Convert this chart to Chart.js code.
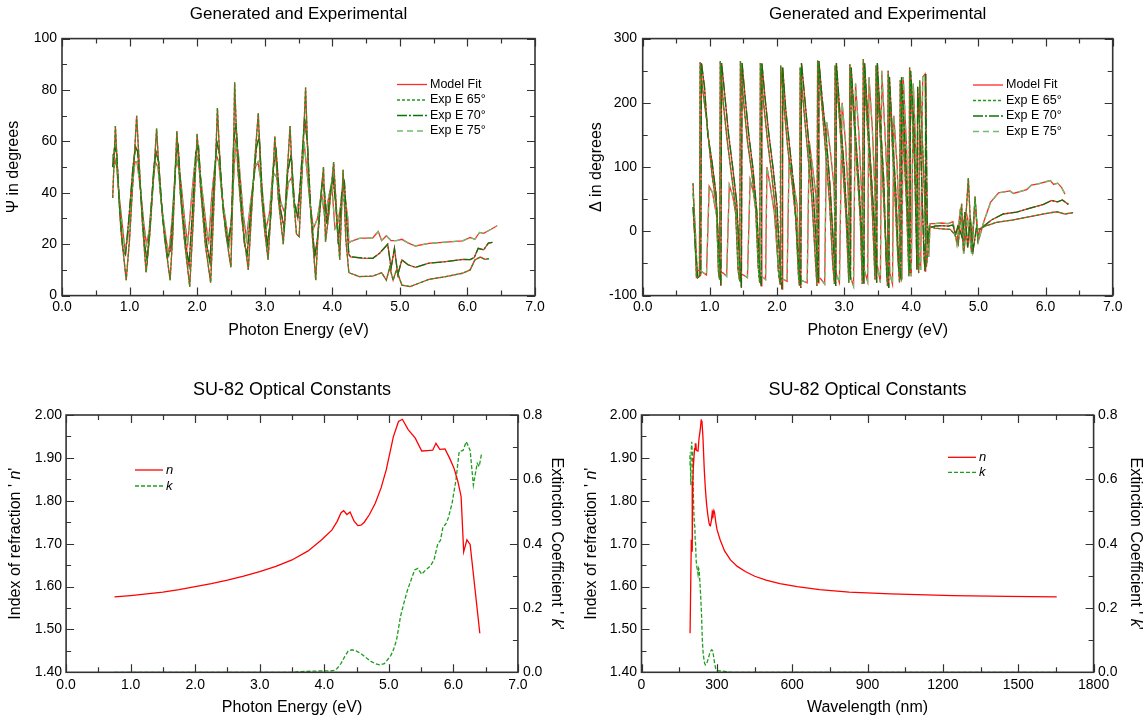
<!DOCTYPE html>
<html>
<head>
<meta charset="utf-8">
<script src="https://cdn.jsdelivr.net/npm/chart.js@4.4.0/dist/chart.umd.min.js"></script>
<style>
  body { margin: 0; background: #fff; }
  #wrap { position: relative; width: 1146px; height: 721px; }
  canvas { position: absolute; }
</style>
</head>
<body>
<div id="wrap">
  <canvas id="psi" width="573" height="360" style="left:0;top:0"></canvas>
  <canvas id="delta" width="573" height="360" style="left:573px;top:0"></canvas>
  <canvas id="nkE" width="573" height="361" style="left:0;top:360px"></canvas>
  <canvas id="nkW" width="573" height="361" style="left:573px;top:360px"></canvas>
</div>
<script>
// ---- Psi (deg) vs photon energy (eV) ----
var psiE65 = [0.75,0.79,0.83,0.87,0.95,1.00,1.05,1.105,1.15,1.19,1.245,1.30,1.35,1.40,1.45,1.52,1.60,1.64,1.67,1.70,1.75,1.81,1.89,1.94,1.97,2.00,2.05,2.12,2.20,2.24,2.27,2.30,2.35,2.42,2.50,2.53,2.555,2.60,2.66,2.757,2.80,2.85,2.905,2.95,3.00,3.05,3.10,3.15,3.20,3.275,3.32,3.375,3.42,3.47,3.51,3.56,3.605,3.65,3.70,3.755,3.80,3.87,3.90,3.95,4.02,4.07,4.11,4.16,4.20,4.245,
  4.27,4.40,4.60,4.73,4.80,4.85,4.90,4.95,5.03,5.15,5.30,5.43,5.68,5.93,6.04,6.11,6.19,6.26,6.32];
var psi65 = [38,66,45,26,6,22,45,70,48,28,9,24,44,65,42,22,6,24,45,64,40,22,3.5,28,45,63,42,20,5,30,50,73,45,25,11,42,83,50,30,10,30,52,71,40,25,14,36,62,38,20,42,66,40,24,23,52,81,45,25,6,30,50,21,32,52,30,14,49,22,9,
  8.7,7.4,7.6,8.9,6.0,11,6,10,4.1,3.5,5.0,6.3,7.4,8.7,10,13.9,15,14.1,14.4];

var psiE70 = [0.75,0.78,0.81,0.85,0.90,0.94,0.99,1.05,1.09,1.12,1.17,1.22,1.26,1.31,1.36,1.39,1.43,1.49,1.56,1.61,1.66,1.69,1.72,1.77,1.83,1.88,1.93,1.98,2.02,2.07,2.14,2.19,2.23,2.29,2.33,2.39,2.46,2.51,2.54,2.575,2.62,2.70,2.74,2.81,2.88,2.92,2.97,3.04,3.08,3.13,3.17,3.23,3.29,3.34,3.39,3.44,3.49,3.53,3.59,3.63,3.68,3.74,3.79,3.85,3.88,3.92,3.97,4.01,4.05,4.09,4.14,4.18,4.22,4.245,
  4.27,4.45,4.60,4.70,4.82,4.87,4.92,4.97,5.03,5.12,5.23,5.43,5.68,5.93,6.04,6.10,6.16,6.24,6.31,6.37];
var psi70 = [50,58,55,35,18,16,30,50,58,56,38,20,14,30,50,56,52,30,15,18,40,55,58,36,20,12,32,56,58,38,20,13,35,60,55,32,20,30,60,67,48,20,16,38,58,62,36,20,28,50,56,34,26,48,55,36,30,45,69,60,34,15,24,44,42,28,40,46,36,20,40,44,26,16,
  15.1,14.6,14.5,16.5,20.0,10.7,18.4,8.2,13.9,12.0,11.0,12.6,13.2,14.1,14.0,14.8,18.4,17.8,20.4,20.7];

var psiE75 = [0.75,0.77,0.80,0.84,0.89,0.93,0.97,1.03,1.08,1.11,1.16,1.21,1.25,1.29,1.34,1.38,1.42,1.47,1.54,1.58,1.63,1.68,1.71,1.76,1.82,1.86,1.91,1.96,2.01,2.06,2.13,2.17,2.22,2.28,2.32,2.37,2.44,2.48,2.52,2.57,2.61,2.68,2.73,2.79,2.86,2.90,2.96,3.02,3.07,3.12,3.18,3.24,3.30,3.35,3.40,3.45,3.50,3.55,3.58,3.62,3.67,3.72,3.78,3.84,3.89,3.93,3.99,4.04,4.08,4.13,4.19,4.23,4.245,
  4.27,4.40,4.60,4.68,4.73,4.80,4.87,4.95,5.03,5.12,5.23,5.43,5.68,5.93,6.04,6.11,6.18,6.24,6.35,6.44];
var psi75 = [55,50,53,40,28,18,22,40,52,52,42,28,20,25,42,52,50,36,22,16,30,50,52,44,28,20,36,50,54,44,28,20,40,55,52,38,26,20,36,60,55,32,22,36,50,52,42,26,32,48,46,36,32,44,46,32,36,48,60,50,36,26,30,40,30,36,44,26,28,36,38,30,20.5,
  21,22.3,22.5,24.9,21.4,23.3,21.4,21.4,21.9,20.5,19.3,20.3,20.8,21.3,22.6,21.9,24.6,24.2,25.8,27.2];

// ---- Delta (deg) vs photon energy (eV) ----
var delE65 = [0.75,0.80,0.845,0.855,0.90,0.953,1.03,1.10,1.13,1.145,1.155,1.20,1.26,1.32,1.38,1.42,1.445,1.455,1.50,1.56,1.62,1.68,1.72,1.742,1.752,1.80,1.86,1.92,1.98,2.02,2.045,2.055,2.10,2.16,2.22,2.28,2.32,2.335,2.345,2.40,2.46,2.52,2.57,2.595,2.605,2.65,2.72,2.78,2.83,2.855,2.865,2.92,2.98,3.03,3.07,3.085,3.13,3.19,3.24,3.27,3.285,3.33,3.38,3.42,3.46,3.475,3.52,3.57,3.62,3.645,3.655,3.70,3.75,3.80,3.825,3.835,3.88,3.93,3.965,3.975,4.02,4.07,4.11,4.125,4.17,4.20,4.225,4.25,
  4.27,4.35,4.45,4.58,4.65,4.70,4.75,4.78,4.85,4.90,4.95,4.99,5.02,5.10,5.27,5.52,5.77,6.02,6.17,6.29,6.41];
var del65 = [75,-72,-70,263,215,173,90,38,-65,-75,265,200,140,90,40,-60,-78,265,205,140,95,40,-55,-80,262,200,140,90,30,-60,-82,258,200,130,80,20,-70,-85,255,190,120,50,-40,-85,266,220,130,50,-50,-82,258,190,100,20,-80,260,200,100,20,-82,268,190,110,30,-75,258,180,90,-20,-85,250,170,70,-40,-80,235,150,40,-70,255,170,60,-65,235,130,50,-55,-30,
  8,5,4,3,-5,-20,43,-32,83,-32,54,-13,4,8,14,18,23,28,30.5,27,29];

var delE70 = [0.75,0.79,0.82,0.865,0.875,0.92,0.97,1.03,1.09,1.14,1.165,1.175,1.22,1.28,1.34,1.40,1.445,1.47,1.48,1.52,1.58,1.64,1.70,1.745,1.765,1.775,1.82,1.88,1.94,2.00,2.055,2.075,2.085,2.13,2.19,2.25,2.31,2.355,2.365,2.42,2.48,2.54,2.59,2.615,2.625,2.67,2.73,2.79,2.84,2.875,2.885,2.94,3.00,3.05,3.095,3.105,3.15,3.21,3.26,3.295,3.305,3.35,3.40,3.45,3.485,3.495,3.54,3.59,3.635,3.665,3.675,3.72,3.77,3.815,3.845,3.855,3.90,3.945,3.98,3.99,4.04,4.085,4.095,4.14,4.19,4.205,4.215,4.24,
  4.27,4.35,4.45,4.55,4.62,4.66,4.70,4.76,4.80,4.84,4.88,4.92,4.97,5.02,5.10,5.20,5.37,5.57,5.77,5.97,6.09,6.18,6.25,6.34];
var del70 = [38,-35,-72,-68,262,225,150,110,60,-40,-85,262,215,150,100,45,-50,-88,262,215,150,100,30,-70,-85,262,210,150,100,40,-75,-90,255,190,130,70,-30,-88,262,200,130,60,-30,-80,265,210,150,70,-20,-85,262,180,100,0,-75,255,180,90,0,-82,262,180,95,10,-80,262,170,80,-70,-88,240,150,60,-60,-72,240,150,40,-65,250,160,-60,225,130,-40,-62,245,-20,
  5,8,9,8,10,-5,10,-10,30,-25,20,-30,5,3,10,18,27,30,36,42,48,46,49,42];

var delE75 = [0.75,0.78,0.81,0.87,0.95,0.99,1.04,1.10,1.13,1.20,1.25,1.29,1.34,1.39,1.43,1.50,1.56,1.60,1.65,1.70,1.73,1.80,1.83,1.85,1.90,1.96,2.03,2.10,2.15,2.18,2.24,2.30,2.33,2.40,2.45,2.48,2.53,2.58,2.61,2.66,2.71,2.74,2.80,2.85,2.88,2.93,2.97,3.02,3.06,3.09,3.14,3.17,3.22,3.26,3.30,3.35,3.37,3.42,3.46,3.49,3.54,3.56,3.61,3.66,3.68,3.72,3.74,3.79,3.84,3.86,3.88,3.93,3.96,4.00,4.03,4.07,4.10,4.14,4.17,4.205,4.23,4.26,
  4.28,4.35,4.45,4.55,4.62,4.68,4.73,4.78,4.84,4.90,4.95,5.00,5.08,5.18,5.30,5.47,5.52,5.72,5.79,5.89,6.07,6.12,6.18,6.24,6.29];
var del75 = [60,10,-60,-62,-68,70,60,25,-62,-65,-70,72,55,25,-65,-68,-72,80,60,20,-70,-72,-75,100,70,30,-72,-75,-78,110,80,40,-75,-78,-80,140,100,55,-70,-75,-82,170,120,70,-65,-80,200,140,60,-70,-85,230,150,60,-60,-78,240,160,60,-50,-80,250,150,40,-65,-82,180,100,-50,-75,240,130,-40,-70,230,120,-30,-60,240,245,40,-40,
  12,12,13,12,15,-20,35,-35,20,-35,47,-15,15,45,60,63,59,65,72,74,79,73,75,68,58];

// ---- SU-82 optical constants ----
var nE = [0.75,0.85,1.0,1.25,1.5,1.75,2.0,2.25,2.5,2.75,3.0,3.25,3.5,3.75,3.96,4.12,4.20,4.26,4.30,4.35,4.40,4.46,4.52,4.57,4.62,4.70,4.79,4.88,4.96,5.07,5.15,5.21,5.30,5.41,5.51,5.60,5.68,5.73,5.79,5.87,5.94,6.01,6.07,6.12,6.16,6.21,6.26,6.41];
var nVal = [1.576,1.577,1.579,1.583,1.587,1.593,1.600,1.607,1.615,1.624,1.635,1.647,1.662,1.683,1.709,1.732,1.752,1.772,1.777,1.768,1.774,1.753,1.742,1.743,1.750,1.768,1.794,1.830,1.872,1.949,1.985,1.990,1.966,1.946,1.916,1.917,1.918,1.934,1.920,1.921,1.900,1.876,1.845,1.810,1.681,1.709,1.698,1.491];
var kE = [0.75,3.5,3.6,3.9,4.14,4.20,4.26,4.32,4.37,4.43,4.50,4.57,4.65,4.73,4.80,4.87,4.93,4.98,5.03,5.07,5.12,5.18,5.24,5.29,5.35,5.40,5.45,5.51,5.57,5.64,5.70,5.76,5.80,5.84,5.88,5.92,5.98,6.04,6.09,6.15,6.20,6.26,6.31,6.37,6.40,6.44];
var kVal = [0,0,0.002,0.004,0.005,0.012,0.028,0.05,0.066,0.070,0.066,0.058,0.045,0.033,0.026,0.023,0.027,0.039,0.052,0.069,0.10,0.173,0.22,0.256,0.29,0.318,0.323,0.305,0.318,0.330,0.349,0.401,0.41,0.453,0.46,0.479,0.525,0.598,0.686,0.69,0.717,0.69,0.582,0.65,0.64,0.683];

var FONT = "'Liberation Sans', Arial, sans-serif";
Chart.defaults.font.family = FONT;
Chart.defaults.color = '#000';

var MODEL = '#ff2a2a';
var G65 = '#1f9a1f', G70 = '#0b730b', G75 = '#6cbf6c';
var D65 = [3, 2], D70 = [10, 2, 2, 2], D75 = [6, 4];

function pts(xs, ys) { return xs.map(function (x, i) { return { x: x, y: ys[i] }; }); }
function nm(e) { return 1239.84 / e; }   // photon energy -> wavelength

function font(it, size) { return (it ? 'italic ' : '') + size + 'px ' + FONT; }

// box around the plot, inward ticks, legend and mixed-style axis titles
function frame(cfg) {
  return {
    id: 'frame',
    afterDraw: function (chart) {
      var ctx = chart.ctx, a = chart.chartArea, s = chart.scales;
      ctx.save();
      ctx.strokeStyle = '#333';
      ctx.lineWidth = 1.2;
      ctx.beginPath();
      function marks(scale, fn) {
        var v = scale.ticks.map(function (t) { return t.value; });
        v.forEach(function (t, i) {
          fn(Math.round(scale.getPixelForValue(t)) + 0.5, 8);
          if (i < v.length - 1) fn(Math.round(scale.getPixelForValue((t + v[i + 1]) / 2)) + 0.5, 5);
        });
      }
      marks(s.x, function (p, l) { ctx.moveTo(p, a.bottom); ctx.lineTo(p, a.bottom - l); ctx.moveTo(p, a.top); ctx.lineTo(p, a.top + l); });
      marks(s.y, function (p, l) {
        ctx.moveTo(a.left, p); ctx.lineTo(a.left + l, p);
        if (!s.y2) { ctx.moveTo(a.right, p); ctx.lineTo(a.right - l, p); }
      });
      if (s.y2) marks(s.y2, function (p, l) { ctx.moveTo(a.right, p); ctx.lineTo(a.right - l, p); });
      ctx.stroke();
      ctx.lineWidth = 1.6;
      ctx.strokeRect(a.left, a.top, a.right - a.left, a.bottom - a.top);

      var lg = cfg.legend;
      lg.items.forEach(function (it, i) {
        var y = lg.y + i * lg.dy;
        ctx.beginPath();
        ctx.setLineDash(it.dash || []);
        ctx.strokeStyle = it.color;
        ctx.lineWidth = 1.3;
        ctx.moveTo(lg.x, y); ctx.lineTo(lg.x + lg.len, y);
        ctx.stroke();
        ctx.setLineDash([]);
        ctx.fillStyle = '#000';
        ctx.font = font(it.italic, lg.size);
        ctx.textAlign = 'left'; ctx.textBaseline = 'middle';
        ctx.fillText(it.text, lg.x + lg.len + 3, y);
      });

      (cfg.sideTitles || []).forEach(function (t) {
        ctx.save();
        ctx.translate(t.x, (a.top + a.bottom) / 2);
        ctx.rotate(t.rot);
        ctx.textAlign = 'left'; ctx.textBaseline = 'middle';
        ctx.fillStyle = '#000';
        var w = 0;
        t.parts.forEach(function (p) { ctx.font = font(p[1], 16); w += ctx.measureText(p[0]).width; });
        var cx = -w / 2;
        t.parts.forEach(function (p) { ctx.font = font(p[1], 16); ctx.fillText(p[0], cx, 0); cx += ctx.measureText(p[0]).width; });
        ctx.restore();
      });
      ctx.restore();
    }
  };
}

function axis(o) {
  var horiz = o.pos === 'bottom';
  return {
    type: 'linear', position: o.pos, min: o.min, max: o.max,
    grid: { display: false, drawTicks: false },
    border: { display: false },
    ticks: {
      stepSize: o.step, padding: o.pad, maxRotation: 0, autoSkip: false,
      font: { size: 14 }, color: '#000',
      callback: function (v) { return o.dec == null ? String(v) : Number(v).toFixed(o.dec); }
    },
    title: o.title ? { display: true, text: o.title, font: { size: 16 }, color: '#000',
      padding: horiz ? { top: 0, bottom: o.tpad } : { top: o.tpad, bottom: 0 } } : { display: false },
    afterFit: function (s) { if (horiz) s.height = o.size; else s.width = o.size; }
  };
}

function title(text, size, top, bottom) {
  return { display: true, text: text, fullSize: false, color: '#000',
    font: { size: size, weight: 'normal' }, padding: { top: top, bottom: bottom } };
}

function line(label, data, color, dash, order, width) {
  return { label: label, data: data, borderColor: color, borderDash: dash || [],
    borderWidth: width || 1.3, pointRadius: 0, tension: 0, fill: false, order: order };
}

var base = { responsive: false, animation: false, events: [] };

function angleSets(E1, v1, E2, v2, E3, v3) {
  return [
    line('Exp E 65°', pts(E1, v1), G65, D65, 1),
    line('Exp E 70°', pts(E2, v2), G70, D70, 1),
    line('Exp E 75°', pts(E3, v3), G75, D75, 1),
    line('Model Fit', pts(E1, v1), MODEL, null, 2),
    line('Model Fit', pts(E2, v2), MODEL, null, 2),
    line('Model Fit', pts(E3, v3), MODEL, null, 2)
  ];
}

function fitLegend(x, y) {
  return { x: x, y: y, dy: 15.5, len: 30, size: 12.5, items: [
    { text: 'Model Fit', color: MODEL },
    { text: 'Exp E 65°', color: G65, dash: D65 },
    { text: 'Exp E 70°', color: G70, dash: D70 },
    { text: 'Exp E 75°', color: G75, dash: D75 }
  ] };
}

new Chart(document.getElementById('psi'), {
  type: 'line',
  data: { datasets: angleSets(psiE65, psi65, psiE70, psi70, psiE75, psi75) },
  options: Object.assign({}, base, {
    layout: { padding: { right: 38 } },
    plugins: { legend: { display: false }, tooltip: { enabled: false },
      title: title('Generated and Experimental', 17, 3.8, 14.4) },
    scales: {
      x: axis({ pos: 'bottom', min: 0, max: 7, step: 1, dec: 1, pad: 3, title: 'Photon Energy (eV)', tpad: 19.4, size: 64.4 }),
      y: axis({ pos: 'left', min: 0, max: 100, step: 20, pad: 5, title: 'Ψ in degrees', tpad: 4.4, size: 62 })
    }
  }),
  plugins: [frame({ legend: fitLegend(397, 84.5) })]
});

new Chart(document.getElementById('delta'), {
  type: 'line',
  data: { datasets: angleSets(delE65, del65, delE70, del70, delE75, del75) },
  options: Object.assign({}, base, {
    layout: { padding: { right: 33.3 } },
    plugins: { legend: { display: false }, tooltip: { enabled: false },
      title: title('Generated and Experimental', 17, 3.8, 14.4) },
    scales: {
      x: axis({ pos: 'bottom', min: 0, max: 7, step: 1, dec: 1, pad: 3, title: 'Photon Energy (eV)', tpad: 19.4, size: 64.4 }),
      y: axis({ pos: 'left', min: -100, max: 300, step: 100, pad: 5.7, title: 'Δ in degrees', tpad: 14.4, size: 69.7 })
    }
  }),
  plugins: [frame({ legend: fitLegend(400, 85) })]
});

function nkLegend(x, y, dy) {
  return { x: x, y: y, dy: dy, len: 28, size: 13, items: [
    { text: 'n', color: '#ff0000', italic: true },
    { text: 'k', color: '#1e9e1e', dash: [4, 2], italic: true }
  ] };
}
function nkTitles(xl, xr) {
  return [
    { x: xl, rot: -Math.PI / 2, parts: [["Index of refraction ' ", false], ['n', true], ["'", false]] },
    { x: xr, rot: Math.PI / 2, parts: [["Extinction Coefficient ' ", false], ['k', true], ["'", false]] }
  ];
}
function nkScales(xo, yw, y2w, ypad, y2pad) {
  return {
    x: axis(xo),
    y: axis({ pos: 'left', min: 1.4, max: 2.0, step: 0.1, dec: 2, pad: ypad, size: yw }),
    y2: axis({ pos: 'right', min: 0, max: 0.8, step: 0.2, dec: 1, pad: y2pad, size: y2w })
  };
}

new Chart(document.getElementById('nkE'), {
  type: 'line',
  data: { datasets: [
    Object.assign(line('n', pts(nE, nVal), '#ff0000', null, 1), { yAxisID: 'y' }),
    Object.assign(line('k', pts(kE, kVal), '#1e9e1e', [4, 2], 2), { yAxisID: 'y2' })
  ] },
  options: Object.assign({}, base, {
    plugins: { legend: { display: false }, tooltip: { enabled: false },
      title: title('SU-82 Optical Constants', 18, 19.2, 14.2) },
    scales: nkScales({ pos: 'bottom', min: 0, max: 7, step: 1, dec: 1, pad: 4.3, title: 'Photon Energy (eV)', tpad: 3.4, size: 48.7 },
      66.1, 55.1, 4, 5)
  }),
  plugins: [frame({ legend: nkLegend(135, 110, 16), sideTitles: nkTitles(16, 556) })]
});

new Chart(document.getElementById('nkW'), {
  type: 'line',
  data: { datasets: [
    Object.assign(line('n', pts(nE.map(nm), nVal), '#ff0000', null, 1), { yAxisID: 'y' }),
    Object.assign(line('k', pts(kE.map(nm), kVal), '#1e9e1e', [4, 2], 2), { yAxisID: 'y2' })
  ] },
  options: Object.assign({}, base, {
    plugins: { legend: { display: false }, tooltip: { enabled: false },
      title: title('SU-82 Optical Constants', 18, 19.2, 14.2) },
    scales: nkScales({ pos: 'bottom', min: 0, max: 1800, step: 300, pad: 4.3, title: 'Wavelength (nm)', tpad: 3.4, size: 48.7 },
      68.5, 52.4, 4.5, 4.4)
  }),
  plugins: [frame({ legend: nkLegend(375, 97.3, 15), sideTitles: nkTitles(19, 562) })]
});
</script>
</body>
</html>
